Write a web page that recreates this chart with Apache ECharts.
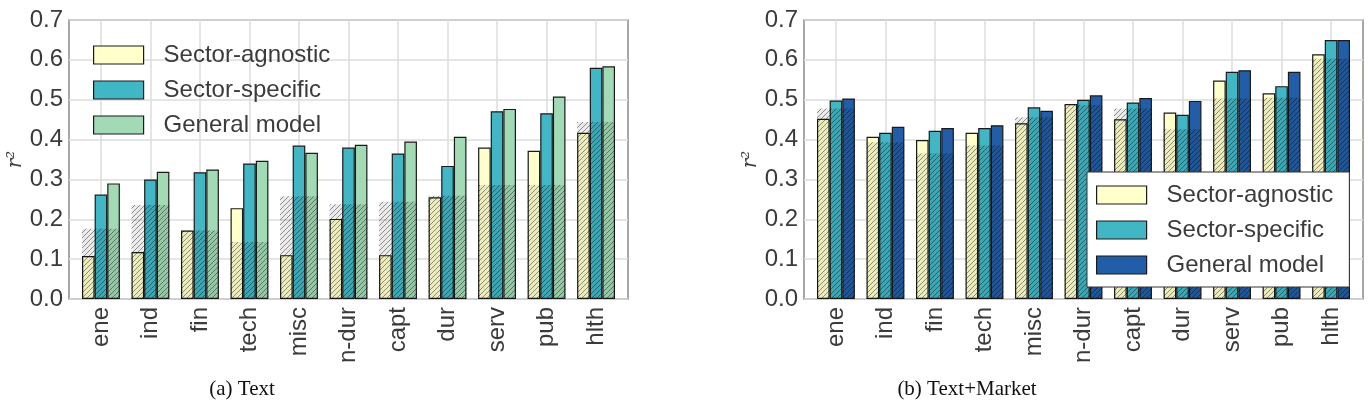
<!DOCTYPE html>
<html style="height: 100%">
<head>
<meta charset="utf-8">
</head>
<body style="height: 100%; margin: 0; background: #fff">
<div id="container" style="width: 1368px; height: 404px"></div>
<script type="text/javascript" src="https://cdn.jsdelivr.net/npm/echarts@6/dist/echarts.min.js"></script>
<script type="text/javascript">
var sectors = ['ene', 'ind', 'fin', 'tech', 'misc', 'n-dur', 'capt', 'dur', 'serv', 'pub', 'hlth'];
var modelNames = ['Sector-agnostic', 'Sector-specific', 'General model'];

// (a) Text
var textAgnostic = [0.108, 0.118, 0.172, 0.228, 0.110, 0.201, 0.110, 0.255, 0.380, 0.372, 0.417];
var textSpecific = [0.262, 0.300, 0.318, 0.340, 0.385, 0.380, 0.365, 0.334, 0.471, 0.466, 0.580];
var textGeneral  = [0.290, 0.319, 0.325, 0.347, 0.367, 0.387, 0.395, 0.407, 0.477, 0.508, 0.584];
var textBase     = [0.176, 0.236, 0.172, 0.143, 0.258, 0.238, 0.244, 0.259, 0.286, 0.286, 0.444];

// (b) Text+Market
var mktAgnostic = [0.452, 0.407, 0.399, 0.417, 0.441, 0.489, 0.451, 0.468, 0.548, 0.516, 0.614];
var mktSpecific = [0.498, 0.417, 0.422, 0.429, 0.481, 0.500, 0.493, 0.462, 0.570, 0.534, 0.650];
var mktGeneral  = [0.503, 0.432, 0.429, 0.436, 0.472, 0.511, 0.504, 0.497, 0.574, 0.570, 0.650];
var mktBase     = [0.478, 0.393, 0.365, 0.385, 0.456, 0.487, 0.478, 0.426, 0.503, 0.505, 0.603];

var colYellow = '#ffffcc', colTeal = '#41b6c4', colGreen = '#a1dab4', colNavy = '#225ea8';
var edge = '#1a1a1a';
var txt = '#3b3b3b';
var barFrac = 0.255;

// hatch tile for the baseline overlay
var hatch = document.createElement('canvas');
var s = 5;
hatch.width = s; hatch.height = s;
var hc = hatch.getContext('2d');
hc.fillStyle = 'rgba(0,0,0,0.08)';
hc.fillRect(0, 0, s, s);
hc.strokeStyle = 'rgba(0,0,0,0.4)';
hc.lineWidth = 1;
hc.beginPath();
hc.moveTo(0, s); hc.lineTo(s, 0);
hc.moveTo(-1, 1); hc.lineTo(1, -1);
hc.moveTo(s - 1, s + 1); hc.lineTo(s + 1, s - 1);
hc.stroke();
var hatchFill = {type: 'pattern', image: hatch, repeat: 'repeat'};

function pairs(vals) {
	return vals.map(function (v, i) { return [i, v]; });
}

function renderOverlay(params, api) {
	var i = api.value(0);
	var half = barFrac * 1.5;
	var p0 = api.coord([i - half, api.value(1)]);
	var p1 = api.coord([i + half, 0]);
	return {
		type: 'rect',
		silent: true,
		shape: {x: p0[0], y: p0[1], width: p1[0] - p0[0], height: p1[1] - p0[1]},
		style: {fill: hatchFill}
	};
}

function barSeries(name, vals, color, idx) {
	return {
		name: name,
		type: 'bar',
		xAxisIndex: idx,
		yAxisIndex: idx,
		data: pairs(vals),
		barWidth: (barFrac * 100) + '%',
		barGap: '0%',
		itemStyle: {color: color, borderColor: edge, borderWidth: 1.2},
		emphasis: {disabled: true},
		z: 2
	};
}

function xAxisOf(idx) {
	var ticks = sectors.map(function (c, i) { return i; });
	return {
		type: 'value',
		gridIndex: idx,
		min: -0.645,
		max: 10.645,
		axisLine: {show: false},
		axisTick: {show: false, customValues: ticks},
		splitLine: {show: true, lineStyle: {color: '#dcdcdc', width: 1.5}},
		axisLabel: {
			customValues: ticks,
			rotate: 90,
			margin: 8,
			fontSize: 24,
			fontFamily: 'Liberation Sans',
			color: txt,
			formatter: function (v) { return sectors[Math.round(v)]; }
		}
	};
}

function yAxisOf(idx, gap) {
	return {
		type: 'value',
		gridIndex: idx,
		min: 0,
		max: 0.7,
		interval: 0.1,
		name: 'r²',
		nameLocation: 'middle',
		nameRotate: 90,
		nameGap: gap,
		nameTextStyle: {fontFamily: 'DejaVu Serif', fontStyle: 'italic', fontSize: 20, color: txt},
		axisLine: {show: false},
		axisTick: {show: false},
		splitLine: {show: true, lineStyle: {color: '#dcdcdc', width: 1.5}},
		axisLabel: {
			margin: 6,
			fontSize: 24,
			fontFamily: 'Liberation Sans',
			color: txt,
			formatter: function (v) { return v.toFixed(1); }
		}
	};
}

function legendOf(idx, colors, box) {
	var l = {
		orient: 'vertical',
		left: box.left,
		top: box.top,
		itemWidth: 50,
		itemHeight: 18,
		itemGap: 11,
		icon: 'rect',
		selectedMode: false,
		data: modelNames.map(function (n, k) {
			return {name: n, itemStyle: {color: colors[k], borderColor: edge, borderWidth: 1.2}};
		}),
		textStyle: {fontSize: 24, fontFamily: 'Liberation Sans', color: txt, lineHeight: 18, padding: [0, 0, 0, 15]}
	};
	if (box.framed) {
		l.padding = [11, 16, 10, 9];
		l.backgroundColor = '#fff';
		l.borderColor = '#333';
		l.borderWidth = 1;
	} else {
		l.padding = 0;
	}
	return l;
}

var dom = document.getElementById('container');
var myChart = echarts.init(dom, null, {renderer: 'canvas'});

var option = {
	backgroundColor: '#fff',
	animation: false,
	grid: [
		{left: 69, top: 20, width: 559, height: 279, show: true, borderColor: '#8a8a8a', borderWidth: 1.5, backgroundColor: 'transparent'},
		{left: 804, top: 20, width: 559, height: 279, show: true, borderColor: '#8a8a8a', borderWidth: 1.5, backgroundColor: 'transparent'}
	],
	xAxis: [xAxisOf(0), xAxisOf(1)],
	yAxis: [yAxisOf(0, 36), yAxisOf(1, 42)],
	legend: [
		legendOf(0, [colYellow, colTeal, colGreen], {left: 93, top: 43}),
		legendOf(1, [colYellow, colTeal, colNavy], {left: 1087, top: 172, framed: true})
	],
	graphic: [
		{type: 'text', x: 242, y: 389, style: {text: '(a) Text', font: '21px "Liberation Serif"', fill: '#111', align: 'center', verticalAlign: 'middle'}},
		{type: 'text', x: 967, y: 389, style: {text: '(b) Text+Market', font: '21px "Liberation Serif"', fill: '#111', align: 'center', verticalAlign: 'middle'}}
	],
	series: [
		barSeries(modelNames[0], textAgnostic, colYellow, 0),
		barSeries(modelNames[1], textSpecific, colTeal, 0),
		barSeries(modelNames[2], textGeneral, colGreen, 0),
		{type: 'custom', xAxisIndex: 0, yAxisIndex: 0, data: pairs(textBase), renderItem: renderOverlay, z: 3, silent: true},
		barSeries(modelNames[0], mktAgnostic, colYellow, 1),
		barSeries(modelNames[1], mktSpecific, colTeal, 1),
		barSeries(modelNames[2], mktGeneral, colNavy, 1),
		{type: 'custom', xAxisIndex: 1, yAxisIndex: 1, data: pairs(mktBase), renderItem: renderOverlay, z: 3, silent: true}
	]
};
myChart.setOption(option);
</script>
</body>
</html>
